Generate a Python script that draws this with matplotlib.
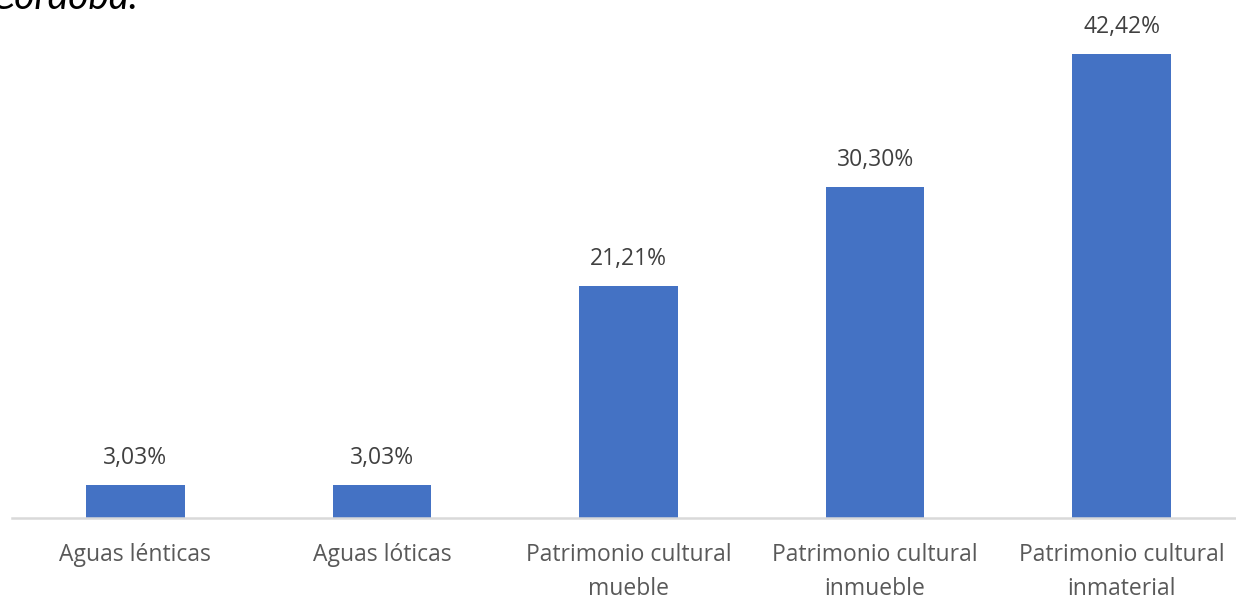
import matplotlib
matplotlib.use("Agg")
import matplotlib.pyplot as plt

categorias = ["Aguas lénticas", "Aguas lóticas", "Patrimonio cultural\nmueble",
              "Patrimonio cultural\ninmueble", "Patrimonio cultural\ninmaterial"]
porcentajes = [3.03, 3.03, 21.21, 30.30, 42.42]
etiquetas = ["3,03%", "3,03%", "21,21%", "30,30%", "42,42%"]

W, H = 1236, 596
fig = plt.figure(figsize=(W / 100, H / 100), dpi=100)
ax = fig.add_axes([12 / W, (H - 518) / H, (1245 - 12) / W, 518 / H])

x = list(range(len(categorias)))
bars = ax.bar(x, porcentajes, width=0.40, color="#4472c4", zorder=2)
for b, t in zip(bars, etiquetas):
    ax.annotate(t, (b.get_x() + b.get_width() / 2, b.get_height()), xytext=(0, 10.5),
                textcoords="offset points", ha="center", va="bottom",
                fontsize=16.5, color="#404040", family="Open Sans")

ax.set_xlim(-0.5, 4.5)
ax.set_ylim(0, 47.35)
ax.set_xticks(x)
ax.set_xticklabels(categorias, fontsize=16.5, color="#595959", family="Open Sans",
                   linespacing=1.55)
ax.tick_params(axis="x", length=0, pad=18)
ax.set_yticks([])
for s in ["top", "left", "right"]:
    ax.spines[s].set_visible(False)
ax.spines["bottom"].set_color("#d9d9d9")
ax.spines["bottom"].set_linewidth(1.8)

# caption text from the page above, cut off by the crop
fig.text(-10 / W, 1 - 9 / H, "Córdoba.", fontsize=28, style="italic", family="Lato",
         color="#000000", ha="left", va="baseline")

fig.savefig("out.png", dpi=100)
